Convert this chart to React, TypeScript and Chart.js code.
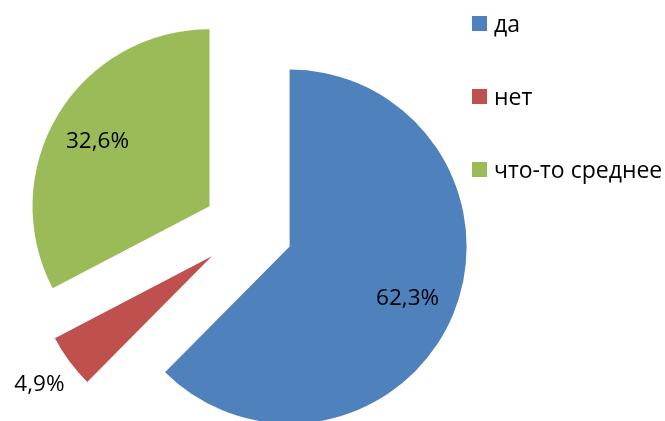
import React, { useEffect, useRef } from "react";
import { Chart, registerables } from "chart.js";

Chart.register(...registerables);

const categories = ["да", "нет", "что-то среднее"];
const values = [62.3, 4.9, 32.6];
const valueLabels = ["62,3%", "4,9%", "32,6%"];
const colors = ["#4F81BD", "#C0504D", "#9BBB59"];

const EXPLODE = 45;
const FONT = "'Open Sans', 'Noto Sans', sans-serif";
const LABEL_SIZE = 22.5;
const LEGEND_SIZE = 23;

const explodePlugin = {
  id: "explodePie",
  beforeDatasetsDraw(chart: any) {
    const ctx = chart.ctx;
    const meta = chart.getDatasetMeta(0);
    meta.data.forEach((arc: any) => {
      const { startAngle, endAngle } = arc.getProps(["startAngle", "endAngle"], true);
      const mid = (startAngle + endAngle) / 2;
      ctx.save();
      ctx.translate(Math.cos(mid) * EXPLODE, Math.sin(mid) * EXPLODE);
      arc.draw(ctx);
      ctx.restore();
    });
    return false;
  },
  afterDraw(chart: any) {
    const ctx = chart.ctx;
    const meta = chart.getDatasetMeta(0);
    const total = values.reduce((a, b) => a + b, 0);
    ctx.save();
    ctx.fillStyle = "#000";
    ctx.font = `${LABEL_SIZE}px ${FONT}`;
    ctx.textAlign = "center";
    ctx.textBaseline = "alphabetic";
    meta.data.forEach((arc: any, i: number) => {
      const { x, y, startAngle, endAngle, outerRadius } = arc.getProps(
        ["x", "y", "startAngle", "endAngle", "outerRadius"],
        true
      );
      const mid = (startAngle + endAngle) / 2;
      const frac = values[i] / total;
      const dist = EXPLODE + (frac < 0.1 ? outerRadius * 1.2 : outerRadius * 0.73);
      const cx = x + Math.cos(mid) * dist;
      const cy = y + Math.sin(mid) * dist;
      ctx.fillText(valueLabels[i], cx - 1.5, cy + LABEL_SIZE * 0.36 + 1);
    });

    // legend
    ctx.textAlign = "left";
    ctx.font = `${LEGEND_SIZE}px ${FONT}`;
    const lx = 472;
    const ly = 16;
    const step = 73;
    const box = 15;
    categories.forEach((c, i) => {
      const top = ly + i * step;
      ctx.fillStyle = colors[i];
      ctx.fillRect(lx, top, box, box);
      ctx.fillStyle = "#000";
      ctx.fillText(c, lx + 22, top + box + 0.5);
    });
    ctx.restore();
  },
};

export default function App() {
  const ref = useRef<HTMLCanvasElement>(null);
  useEffect(() => {
    if (!ref.current) return;
    const chart = new Chart(ref.current, {
      type: "pie",
      data: {
        labels: categories,
        datasets: [
          {
            data: values,
            backgroundColor: colors,
            borderWidth: 0,
          },
        ],
      },
      options: {
        responsive: false,
        animation: false,
        radius: 177,
        layout: { padding: { left: 0, right: 169, top: 38, bottom: 0 } },
        plugins: {
          legend: { display: false },
          tooltip: { enabled: false },
        },
      },
      plugins: [explodePlugin],
    } as any);
    return () => chart.destroy();
  }, []);
  return (
    <div style={{ position: "fixed", left: 0, top: 0, width: 665, height: 421, background: "#fff" }}>
      <canvas ref={ref} width={665} height={421} />
    </div>
  );
}
